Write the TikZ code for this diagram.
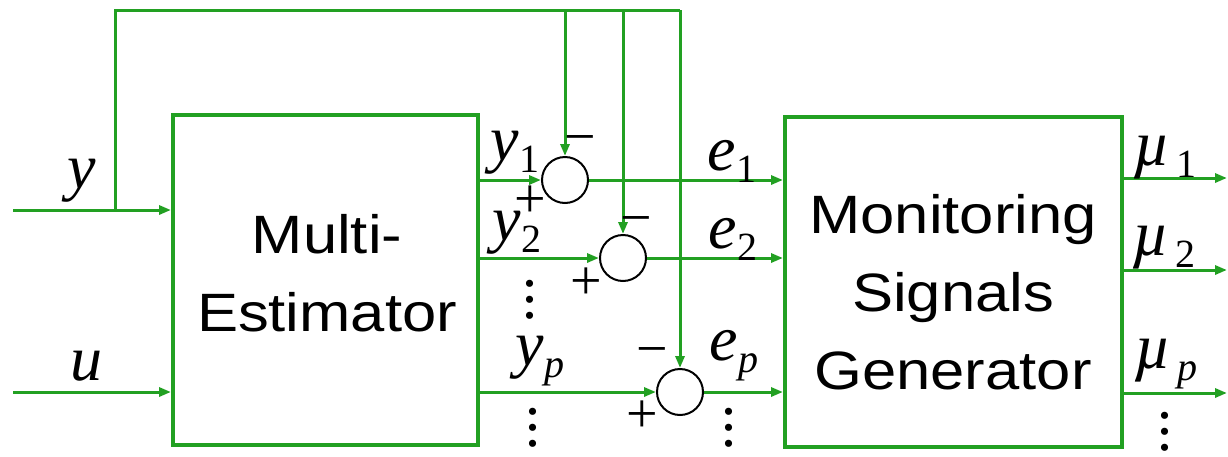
\documentclass[tikz,border=0pt]{standalone}
\usepackage{fontspec}
\usetikzlibrary{arrows.meta}
\newfontfamily\boxfont[FakeStretch=1.14]{Liberation Sans}
\newfontfamily\lblfont{Liberation Serif}
\definecolor{grn}{RGB}{34,160,34}
\newcommand{\lab}[2]{{\lblfont\fontsize{32}{32}\selectfont\itshape #1}\raisebox{-6pt}{\lblfont\fontsize{20}{20}\selectfont #2}}
\newcommand{\mydots}{\vbox{\baselineskip=8pt\lineskiplimit=0pt\hbox{.}\hbox{.}\hbox{.}}}
\begin{document}
\begin{tikzpicture}[x=0.5pt,y=-0.5pt,
  wire/.style={draw=grn, line width=1.5pt},
  arr/.style={wire, -{Triangle[length=6pt,width=4.5pt]}},
  blk/.style={draw=grn, line width=2pt, inner sep=0},
  btxt/.style={font=\boxfont\fontsize{27}{39}\selectfont, align=center, inner sep=0},
  sumc/.style={circle, draw=black, line width=1pt, minimum size=23pt, inner sep=0},
  lbl/.style={anchor=base, inner sep=0},
  sgn/.style={font=\lblfont\fontsize{28}{28}\selectfont, inner sep=0},
  dts/.style={font=\lblfont\fontsize{30}{30}\selectfont, inner sep=0}]
\useasboundingbox (0,0) rectangle (1228,456);
% blocks
\node[blk, minimum width=152.5pt, minimum height=165pt] (me) at (325.5,280) {};
\node[btxt] (metxt) at (327,273) {Multi-\\Estimator};
\node[blk, minimum width=168.5pt, minimum height=165pt] (msg) at (953.5,282) {};
\node[btxt] (msgtxt) at (953,292) {Monitoring\\Signals\\Generator};
% summing junctions
\node[sumc] (c1) at (565,180) {};
\node[sumc] (c2) at (623,258) {};
\node[sumc] (c3) at (680,392) {};
% coordinates
\coordinate (yin) at (13,210);
\coordinate (uin) at (13,392);
\coordinate (j) at (115,210);
\coordinate (t1) at (565,10);
\coordinate (t2) at (623,10);
\coordinate (t3) at (680,10);
\coordinate (o1) at (1227,178);
\coordinate (o2) at (1227,270);
\coordinate (o3) at (1227,393);
% inputs
\draw[arr] (yin) -- (me.west |- yin);
\draw[arr] (uin) -- (me.west |- uin);
% feedback
\draw[wire] (j) |- (t3);
\draw[arr] (t1) -- (c1.north);
\draw[arr] (t2) -- (c2.north);
\draw[arr] (t3) -- (c3.north);
% estimator outputs
\draw[arr] (me.east |- c1) -- (c1.west);
\draw[arr] (me.east |- c2) -- (c2.west);
\draw[arr] (me.east |- c3) -- (c3.west);
% errors
\draw[arr] (c1.east) -- (msg.west |- c1);
\draw[arr] (c2.east) -- (msg.west |- c2);
\draw[arr] (c3.east) -- (msg.west |- c3);
% outputs
\draw[arr] (msg.east |- o1) -- (o1);
\draw[arr] (msg.east |- o2) -- (o2);
\draw[arr] (msg.east |- o3) -- (o3);
% labels
\node[lbl] (ly) at (82,188) {\lab{y}{}};
\node[lbl] (lu) at (86,380) {\lab{u}{}};
\node[lbl] (ly1) at (515,160) {\lab{y}{1}};
\node[lbl] (ly2) at (517,240) {\lab{y}{2}};
\node[lbl] (lyp) at (540,365) {\lab{y}{\itshape p}};
\node[lbl] (le1) at (732,170) {\lab{e}{1}};
\node[lbl] (le2) at (733,248) {\lab{e}{2}};
\node[lbl] (lep) at (734,360) {\lab{e}{\itshape p}};
\node[lbl] (lm1) at (1165,165) {\lab{\textmu}{\,1}};
\node[lbl] (lm2) at (1164,255) {\lab{\textmu}{\,2}};
\node[lbl] (lmp) at (1166,368) {\lab{\textmu}{\,\itshape p}};
% signs
\node[sgn] (m1) at (580,145) {\textminus};
\node[sgn] (p1) at (530,202) {+};
\node[sgn] (m2) at (636,226) {\textminus};
\node[sgn] (p2) at (586,284) {+};
\node[sgn] (m3) at (652,357) {\textminus};
\node[sgn] (p3) at (642,417) {+};
% dots
\node[dts] (d1) at (530,300) {\mydots};
\node[dts] (d2) at (533,428) {\mydots};
\node[dts] (d3) at (729,428) {\mydots};
\node[dts] (d4) at (1165,432) {\mydots};
\end{tikzpicture}
\end{document}
